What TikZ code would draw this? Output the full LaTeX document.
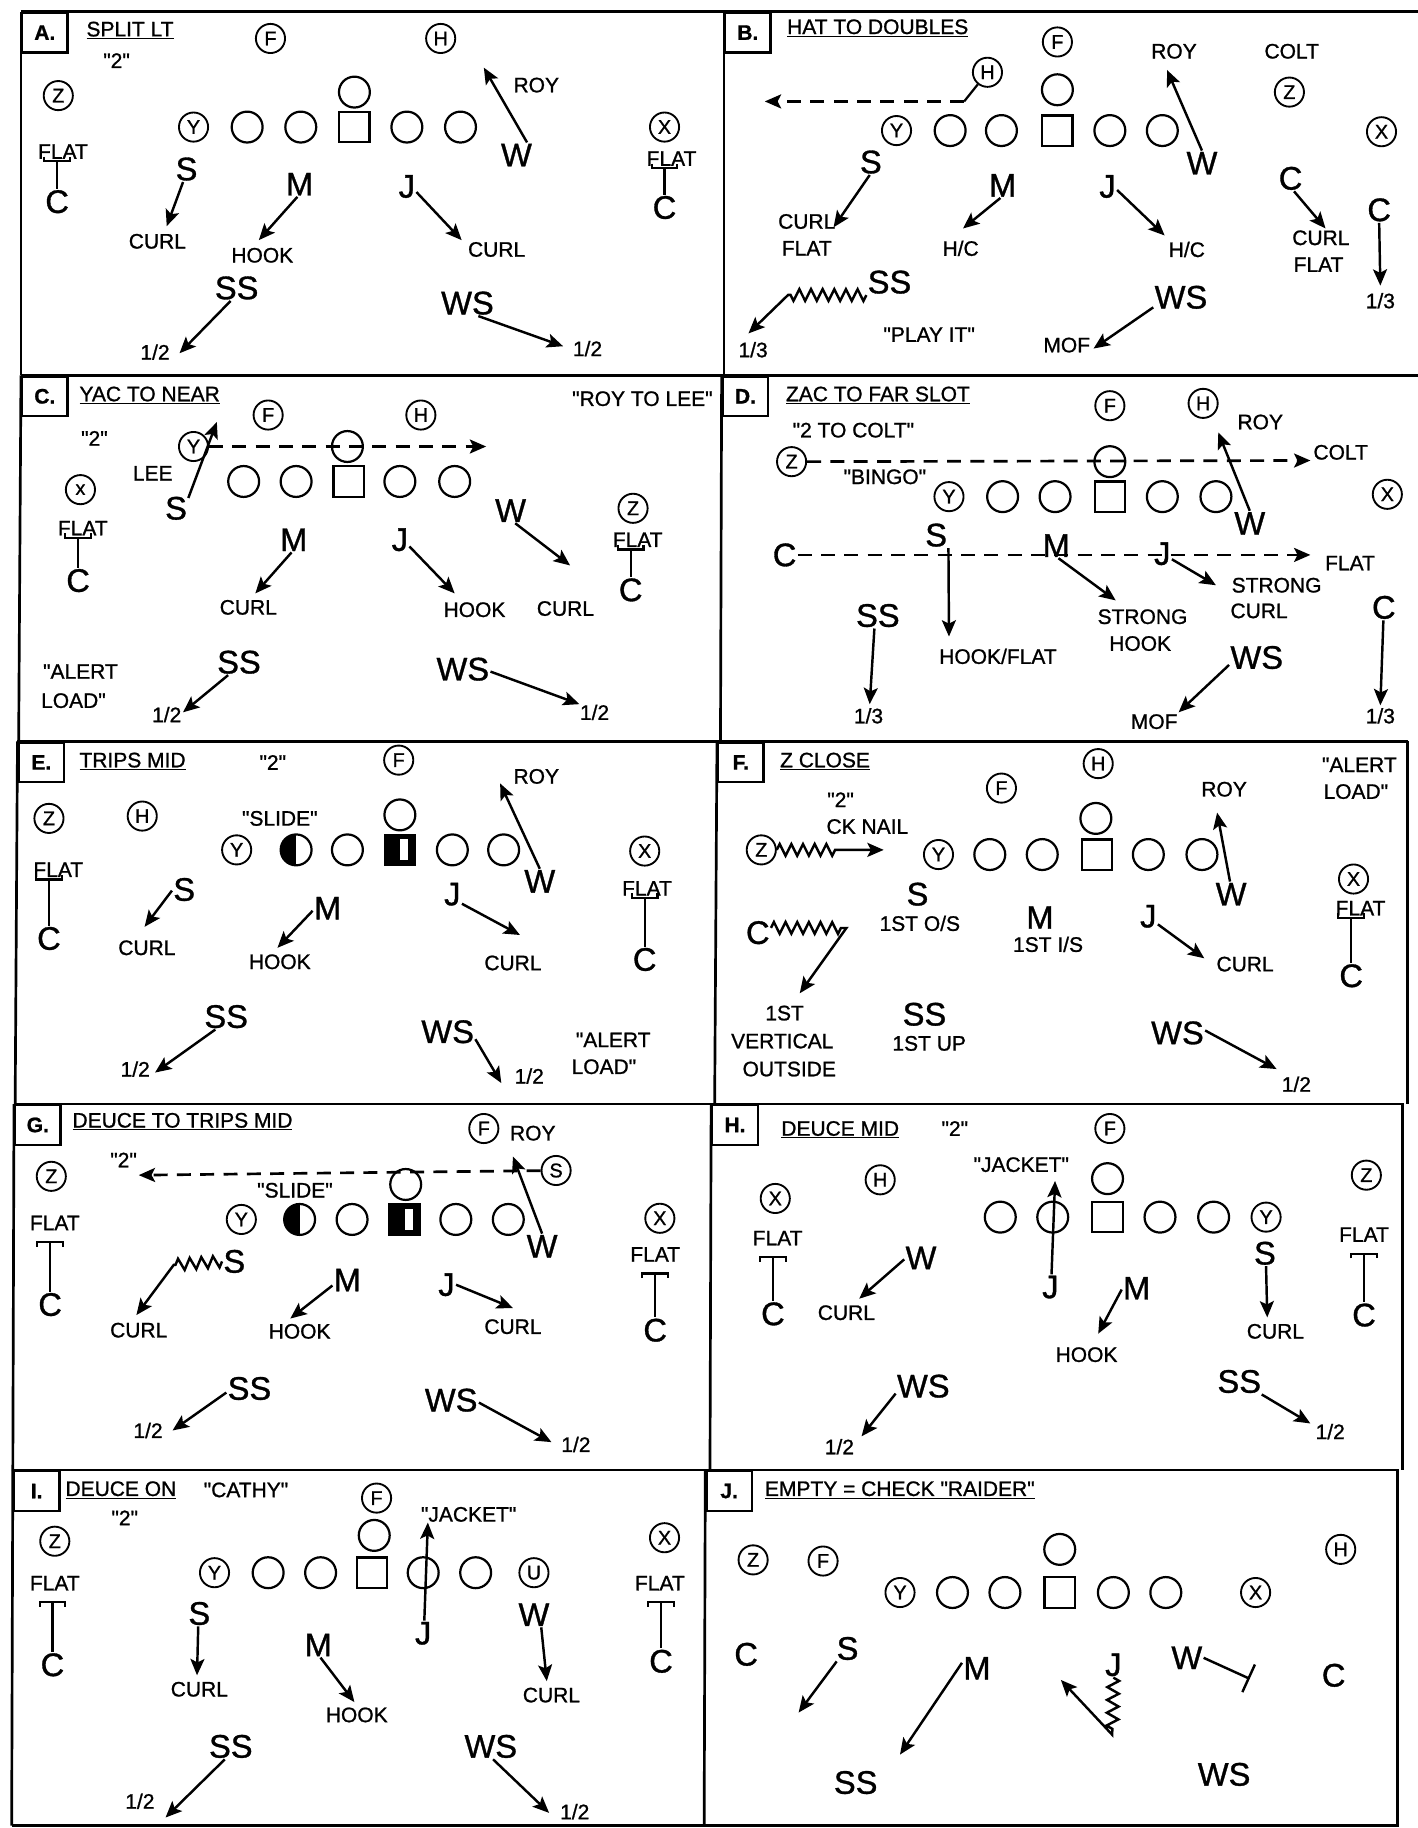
\documentclass[tikz,border=0pt]{standalone}
\usepackage{fontspec}
\setmainfont{Liberation Sans}[Ligatures=TeXOff, FakeBold=1]
\usetikzlibrary{arrows.meta,decorations.pathmorphing,calc}
\newcommand\myarr[3]{\coordinate (#1e) at (#3); \draw[ar] (#1.#2) -- (#1e);}
\newcommand\flatup[2]{%
  \path (#1.south) ++(0,1) coordinate (fb);
  \draw[ln] (fb -| #2.north) ++(-11,-4) -- ++(0,4) -- ++(22,0) -- ++(0,-4);
  \draw[ln] (fb -| #2.north) -- (#2.north);}
\newcommand\flatdn[2]{%
  \path (#1.south) ++(0,9) coordinate (fb);
  \draw[ln] (fb -| #2.north) ++(-11,4) -- ++(0,-4) -- ++(22,0) -- ++(0,4);
  \draw[ln] (fb -| #2.north) -- (#2.north);}
\tikzset{
 big/.style={font=\fontsize{28}{30}\selectfont, inner sep=1pt},
 sm/.style={font=\fontsize{18}{20}\selectfont, inner sep=1pt},
 pc/.style={circle, draw, line width=1.6pt, minimum size=25pt, inner sep=0pt, font=\fontsize{17}{17}\selectfont},
 oc/.style={circle, draw, line width=1.9pt, minimum size=26.5pt, inner sep=0pt},
 sq/.style={rectangle, draw, line width=1.9pt, minimum size=26pt, inner sep=0pt},
 ar/.style={line width=2.1pt, -{Stealth[length=14pt,width=12pt,inset=3pt]}},
 dar/.style={line width=2.3pt, dash pattern=on 12pt off 8pt, -{Stealth[length=14pt,width=12pt,inset=3pt]}},
 ln/.style={line width=1.9pt},
 ttl/.style={font=\fontsize{18}{20}\selectfont, inner sep=1pt, anchor=west},
 lbox/.style={draw, line width=1.9pt, font=\bfseries\fontsize{18}{20}\selectfont, minimum width=39pt, minimum height=34pt, inner sep=0pt, anchor=north west},
 panelrule/.style={line width=2.3pt},
 zig/.style={decoration={zigzag, segment length=10pt, amplitude=5pt}},
 halfc/.style={oc, path picture={\fill (path picture bounding box.south west) rectangle (path picture bounding box.north);}},
 halfs/.style={sq, path picture={\fill (path picture bounding box.south west) rectangle (path picture bounding box.north east);
   \fill[white] ($(path picture bounding box.north)+(0,4)$) rectangle ($(path picture bounding box.south east)+(-6,-4)$);}},
}
\begin{document}
\begin{tikzpicture}[x=1pt,y=-1pt]
\fill[white] (0,0) rectangle (1216,1568);
\useasboundingbox (0,0) rectangle (1216,1568);
% ---------- grid ----------
\draw[panelrule] (18,10) -- (1216,10);
\draw[panelrule] (18,322) -- (1216,322);
\draw[panelrule] (15,636) -- (1208,636);
\draw[panelrule] (12,947) -- (1204,947);
\draw[panelrule] (11,1261) -- (1200,1261);
\draw[panelrule] (10,1566) -- (1200,1566);
\draw[panelrule] (18,10) -- (18,322);
\draw[panelrule] (18,322) -- (16,636);
\draw[panelrule] (15,636) -- (13,947);
\draw[panelrule] (12,947) -- (11,1261);
\draw[panelrule] (11,1261) -- (10,1566);
\draw[panelrule] (621,10) -- (621,322);
\draw[panelrule] (619,322) -- (618,636);
\draw[panelrule] (615,636) -- (613,947);
\draw[panelrule] (610,947) -- (609,1261);
\draw[panelrule] (605,1261) -- (604,1566);
\draw[panelrule] (1207,636) -- (1207,947);
\draw[panelrule] (1203,947) -- (1203,1261);
\draw[panelrule] (1199,1261) -- (1199,1566);

% ---------- A ----------
\node[lbox] (aL) at (18,10) {A.};
\node[ttl] (aT) at (73,26) {\underline{SPLIT LT}};
\node[sm] (a2) at (100,52) {"2"};
\node[pc] (aF) at (232,33) {F};
\node[pc] (aH) at (378,33) {H};
\node[pc] (aZ) at (50,82) {Z};
\node[oc] (aQ) at (304,79) {};
\node[pc] (aY) at (166,109) {Y};
\node[oc] (aO1) at (212,109) {};
\node[oc] (aO2) at (258,109) {};
\node[sq] (aC) at (304,109) {};
\node[oc] (aO3) at (349,109) {};
\node[oc] (aO4) at (395,109) {};
\node[pc] (aX) at (570,109) {X};
\node[sm] (aRoy) at (460,73) {ROY};
\node[big] (aW) at (443,133) {W};
\myarr{aW}{50}{415,58}
\node[sm] (aFl1) at (54,130) {FLAT};
\node[big] (aC1) at (49,173) {C};
\flatup{aFl1}{aC1}
\node[sm] (aFl2) at (576,136) {FLAT};
\node[big] (aC2) at (570,178) {C};
\flatup{aFl2}{aC2}
\node[big] (aS) at (160,145) {S};
\myarr{aS}{-105}{143,194}
\node[sm] (aCu1) at (135,207) {CURL};
\node[big] (aM) at (257,158) {M};
\myarr{aM}{-100}{222,206}
\node[sm] (aHk) at (225,219) {HOOK};
\node[big] (aJ) at (349,160) {J};
\myarr{aJ}{-30}{396,206}
\node[sm] (aCu2) at (426,214) {CURL};
\node[big] (aSS) at (203,247) {SS};
\myarr{aSS}{-115}{154,303}
\node[sm] (a12a) at (133,302) {1/2};
\node[big] (aWS) at (401,260) {WS};
\myarr{aWS}{-50}{483,297}
\node[sm] (a12b) at (504,299) {1/2};

% ---------- B ----------
\node[lbox] (bL) at (621,10) {B.};
\node[ttl] (bT) at (674,24) {\underline{HAT TO DOUBLES}};
\node[pc] (bF) at (907,36) {F};
\node[sm] (bRoy) at (1007,44) {ROY};
\node[sm] (bColt) at (1108,44) {COLT};
\node[pc] (bH) at (847,62) {H};
\coordinate (bHc) at (827,87);
\coordinate (bHe) at (656,87);
\draw[ln] (bH) -- (bHc);
\draw[dar] (bHc) -- (bHe);
\node[oc] (bQ) at (907,77) {};
\node[pc] (bZ) at (1106,79) {Z};
\node[pc] (bY) at (769,112) {Y};
\node[oc] (bO1) at (815,112) {};
\node[oc] (bO2) at (859,112) {};
\node[sq] (bC) at (907,112) {};
\node[oc] (bO3) at (952,112) {};
\node[oc] (bO4) at (997,112) {};
\node[pc] (bX) at (1185,113) {X};
\node[big] (bW) at (1031,140) {W};
\myarr{bW}{90}{1001,60}
\node[big] (bS) at (747,139) {S};
\myarr{bS}{-95}{715,195}
\node[sm] (bCu1) at (692,190) {CURL};
\node[sm] (bFl1) at (692,213) {FLAT};
\node[big] (bM) at (860,159) {M};
\myarr{bM}{-100}{826,196}
\node[sm] (bHC1) at (824,213) {H/C};
\node[big] (bJ) at (950,160) {J};
\myarr{bJ}{-20}{999,202}
\node[sm] (bHC2) at (1018,214) {H/C};
\node[big] (bC1) at (1107,153) {C};
\myarr{bC1}{-75}{1137,196}
\node[sm] (bCu2) at (1133,204) {CURL};
\node[sm] (bFl2) at (1131,227) {FLAT};
\node[big] (bC2) at (1183,180) {C};
\myarr{bC2}{-90}{1184,245}
\node[sm] (b13b) at (1184,258) {1/3};
\node[big] (bSS) at (763,242) {SS};
\coordinate (bZc) at (676,253);
\coordinate (bSSe) at (642,286);
\draw[ar] decorate[zig]{(bSS.south west) -- (bZc)} -- (bSSe);
\node[sm] (b13a) at (646,300) {1/3};
\node[sm] (bPlay) at (797,287) {"PLAY IT"};
\node[big] (bWS) at (1013,255) {WS};
\myarr{bWS}{-160}{938,299}
\node[sm] (bMof) at (915,296) {MOF};

% ---------- C ----------
\node[lbox] (cL) at (18,322) {C.};
\node[ttl] (cT) at (67,339) {\underline{YAC TO NEAR}};
\node[sm] (cRL) at (551,342) {"ROY TO LEE"};
\node[sm] (c2) at (81,376) {"2"};
\node[pc] (cF) at (230,356) {F};
\node[pc] (cH) at (361,356) {H};
\node[pc] (cY) at (166,383) {Y};
\node[oc] (cQ) at (298,383) {};
\coordinate (cYe) at (417,383);
\draw[dar] (cY) -- (cYe);
\node[sm] (cLee) at (131,406) {LEE};
\node[big] (cS) at (151,436) {S};
\myarr{cS}{40}{186,362}
\node[oc] (cO1) at (209,413) {};
\node[oc] (cO2) at (254,413) {};
\node[sq] (cC) at (299,413) {};
\node[oc] (cO3) at (343,413) {};
\node[oc] (cO4) at (390,413) {};
\node[pc] (cX) at (69,420) {x};
\node[sm] (cFl1) at (71,453) {FLAT};
\node[big] (cC1) at (67,498) {C};
\flatup{cFl1}{cC1}
\node[big] (cW) at (438,438) {W};
\myarr{cW}{-70}{489,485}
\node[pc] (cZ) at (543,436) {Z};
\node[sm] (cFl2) at (547,463) {FLAT};
\node[big] (cC2) at (541,506) {C};
\flatup{cFl2}{cC2}
\node[big] (cM) at (252,463) {M};
\myarr{cM}{-100}{219,509}
\node[sm] (cCu1) at (213,521) {CURL};
\node[big] (cJ) at (343,463) {J};
\myarr{cJ}{-35}{390,509}
\node[sm] (cHk) at (407,523) {HOOK};
\node[sm] (cCu2) at (485,522) {CURL};
\node[sm] (cAl) at (69,576) {"ALERT};
\node[sm] (cLo) at (63,601) {LOAD"};
\node[big] (cSS) at (205,568) {SS};
\myarr{cSS}{-130}{157,611}
\node[sm] (c12a) at (143,613) {1/2};
\node[big] (cWS) at (397,574) {WS};
\myarr{cWS}{-5}{497,604}
\node[sm] (c12b) at (510,611) {1/2};

% ---------- D ----------
\node[lbox] (dL) at (619,322) {D.};
\node[ttl] (dT) at (673,339) {\underline{ZAC TO FAR SLOT}};
\node[sm] (d2) at (732,369) {"2 TO COLT"};
\node[pc] (dF) at (952,348) {F};
\node[pc] (dH) at (1032,346) {H};
\node[sm] (dRoy) at (1081,362) {ROY};
\node[pc] (dZ) at (679,396) {Z};
\node[oc] (dQ) at (952,396) {};
\coordinate (dZe) at (1124,395);
\draw[dar] (dZ) -- (dZe);
\node[sm] (dColt) at (1150,388) {COLT};
\node[sm] (dBingo) at (759,409) {"BINGO"};
\node[pc] (dY) at (814,426) {Y};
\node[oc] (dO1) at (860,426) {};
\node[oc] (dO2) at (905,426) {};
\node[sq] (dC) at (952,426) {};
\node[oc] (dO3) at (997,426) {};
\node[oc] (dO4) at (1043,426) {};
\node[pc] (dX) at (1190,424) {X};
\node[big] (dW) at (1072,449) {W};
\myarr{dW}{90}{1045,371}
\node[big] (dC1) at (673,476) {C};
\coordinate (dC1e) at (1124,476);
\draw[dar] (dC1) -- (dC1e);
\node[sm] (dFl) at (1158,483) {FLAT};
\node[big] (dS) at (803,459) {S};
\myarr{dS}{south east}{814,546}
\node[sm] (dHF) at (856,563) {HOOK/FLAT};
\node[big] (dM) at (906,468) {M};
\myarr{dM}{-80}{957,515}
\node[sm] (dSt1) at (980,529) {STRONG};
\node[sm] (dHk) at (978,552) {HOOK};
\node[big] (dJ) at (997,475) {J};
\myarr{dJ}{-30}{1043,502}
\node[sm] (dSt2) at (1095,502) {STRONG};
\node[sm] (dCu) at (1080,524) {CURL};
\node[big] (dC2) at (1187,521) {C};
\myarr{dC2}{-92}{1184,605}
\node[sm] (d13b) at (1184,614) {1/3};
\node[big] (dSS) at (753,528) {SS};
\myarr{dSS}{-105}{746,604}
\node[sm] (d13a) at (745,614) {1/3};
\node[big] (dWS) at (1078,564) {WS};
\myarr{dWS}{-165}{1011,611}
\node[sm] (dMof) at (990,619) {MOF};

% ---------- E ----------
\node[lbox] (eL) at (15,636) {E.};
\node[ttl] (eT) at (67,653) {\underline{TRIPS MID}};
\node[sm] (e2) at (234,654) {"2"};
\node[pc] (eF) at (342,652) {F};
\node[sm] (eRoy) at (460,666) {ROY};
\node[pc] (eZ) at (42,702) {Z};
\node[pc] (eH) at (122,700) {H};
\node[sm] (eSl) at (240,702) {"SLIDE"};
\node[oc] (eQ) at (343,699) {};
\node[pc] (eY) at (203,729) {Y};
\node[halfc] (eO1) at (254,729) {};
\node[oc] (eO2) at (298,729) {};
\node[halfs] (eC) at (343,729) {};
\node[oc] (eO3) at (388,729) {};
\node[oc] (eO4) at (432,729) {};
\node[pc] (eX) at (553,730) {X};
\node[big] (eW) at (463,756) {W};
\myarr{eW}{90}{429,672}
\node[sm] (eFl1) at (50,746) {FLAT};
\node[big] (eC1) at (42,805) {C};
\flatup{eFl1}{eC1}
\node[sm] (eFl2) at (555,762) {FLAT};
\node[big] (eC2) at (553,823) {C};
\flatup{eFl2}{eC2}
\node[big] (eS) at (158,763) {S};
\myarr{eS}{-175}{124,795}
\node[sm] (eCu1) at (126,813) {CURL};
\node[big] (eM) at (281,779) {M};
\myarr{eM}{-170}{238,813}
\node[sm] (eHk) at (240,825) {HOOK};
\node[big] (eJ) at (388,767) {J};
\myarr{eJ}{-45}{446,802}
\node[sm] (eCu2) at (440,826) {CURL};
\node[big] (eSS) at (194,872) {SS};
\myarr{eSS}{-130}{133,920}
\node[sm] (e12a) at (116,917) {1/2};
\node[big] (eWS) at (384,885) {WS};
\myarr{eWS}{-15}{430,929}
\node[sm] (e12b) at (454,923) {1/2};
\node[sm] (eAl) at (526,892) {"ALERT};
\node[sm] (eLo) at (518,915) {LOAD"};

% ---------- F ----------
\node[lbox] (fL) at (615,636) {F.};
\node[ttl] (fT) at (668,653) {\underline{Z CLOSE}};
\node[pc] (fH) at (942,655) {H};
\node[pc] (fF) at (859,676) {F};
\node[sm] (fRoy) at (1050,677) {ROY};
\node[sm] (fAl) at (1166,656) {"ALERT};
\node[sm] (fLo) at (1163,679) {LOAD"};
\node[sm] (f2) at (721,686) {"2"};
\node[sm] (fCk) at (744,709) {CK NAIL};
\node[pc] (fZ) at (653,729) {Z};
\coordinate (fZc) at (721,729);
\coordinate (fZe) at (758,729);
\draw[ar] decorate[zig]{(fZ.east) -- (fZc)} -- (fZe);
\node[oc] (fQ) at (940,702) {};
\node[pc] (fY) at (805,733) {Y};
\node[oc] (fO1) at (849,733) {};
\node[oc] (fO2) at (894,733) {};
\node[sq] (fC) at (941,733) {};
\node[oc] (fO3) at (985,733) {};
\node[oc] (fO4) at (1031,733) {};
\node[big] (fW) at (1056,767) {W};
\myarr{fW}{95}{1044,697}
\node[pc] (fX) at (1161,754) {X};
\node[sm] (fFl) at (1167,779) {FLAT};
\node[big] (fC2) at (1159,837) {C};
\flatup{fFl}{fC2}
\node[big] (fS) at (787,767) {S};
\node[sm] (f1os) at (789,792) {1ST O/S};
\node[big] (fM) at (892,787) {M};
\node[sm] (f1is) at (899,810) {1ST I/S};
\node[big] (fJ) at (985,786) {J};
\myarr{fJ}{-40}{1033,822}
\node[sm] (fCu) at (1068,827) {CURL};
\node[big] (fC1) at (650,800) {C};
\coordinate (fC1c) at (726,796);
\coordinate (fC1e) at (686,852);
\draw[ar] decorate[zig]{(fC1.20) -- (fC1c)} -- (fC1e);
\node[sm] (f1st) at (673,869) {1ST};
\node[sm] (fVe) at (671,893) {VERTICAL};
\node[sm] (fOu) at (677,917) {OUTSIDE};
\node[big] (fSS) at (793,870) {SS};
\node[sm] (f1up) at (797,895) {1ST UP};
\node[big] (fWS) at (1010,886) {WS};
\myarr{fWS}{5}{1095,917}
\node[sm] (f12) at (1112,930) {1/2};

% ---------- G ----------
\node[lbox] (gL) at (12,947) {G.};
\node[ttl] (gT) at (61,962) {\underline{DEUCE TO TRIPS MID}};
\node[pc] (gF) at (415,968) {F};
\node[sm] (gRoy) at (457,972) {ROY};
\node[sm] (g2) at (106,995) {"2"};
\node[pc] (gZ) at (44,1009) {Z};
\node[pc] (gSc) at (477,1004) {S};
\coordinate (gSe) at (119,1008);
\draw[dar] (gSc) -- (gSe);
\node[sm] (gSl) at (253,1021) {"SLIDE"};
\node[oc] (gQ) at (348,1016) {};
\node[pc] (gY) at (207,1046) {Y};
\node[halfc] (gO1) at (257,1046) {};
\node[oc] (gO2) at (302,1046) {};
\node[halfs] (gC) at (347,1046) {};
\node[oc] (gO3) at (391,1046) {};
\node[oc] (gO4) at (436,1046) {};
\node[pc] (gX) at (566,1045) {X};
\node[big] (gW) at (465,1069) {W};
\myarr{gW}{90}{440,992}
\node[sm] (gFl1) at (47,1049) {FLAT};
\node[big] (gC1) at (43,1119) {C};
\flatdn{gFl1}{gC1}
\node[sm] (gFl2) at (562,1076) {FLAT};
\node[big] (gC2) at (562,1141) {C};
\flatdn{gFl2}{gC2}
\node[big] (gS) at (201,1082) {S};
\coordinate (gSzc) at (149,1085);
\coordinate (gSze) at (117,1128);
\draw[ar] decorate[zig]{(gS.west) -- (gSzc)} -- (gSze);
\node[sm] (gCu1) at (119,1141) {CURL};
\node[big] (gM) at (298,1098) {M};
\myarr{gM}{-160}{249,1131}
\node[sm] (gHk) at (257,1142) {HOOK};
\node[big] (gJ) at (383,1102) {J};
\myarr{gJ}{0}{440,1122}
\node[sm] (gCu2) at (440,1138) {CURL};
\node[big] (gSS) at (214,1191) {SS};
\myarr{gSS}{-170}{148,1227}
\node[sm] (g12a) at (127,1227) {1/2};
\node[big] (gWS) at (387,1201) {WS};
\myarr{gWS}{-5}{473,1237}
\node[sm] (g12b) at (494,1239) {1/2};

% ---------- H ----------
\node[lbox] (hL) at (610,947) {H.};
\node[ttl] (hT) at (669,969) {\underline{DEUCE MID}};
\node[sm] (h2) at (819,968) {"2"};
\node[pc] (hF) at (952,968) {F};
\node[sm] (hJk) at (876,999) {"JACKET"};
\node[oc] (hQ) at (950,1011) {};
\node[pc] (hX) at (665,1028) {X};
\node[pc] (hH) at (755,1012) {H};
\node[pc] (hZ) at (1172,1008) {Z};
\node[oc] (hO1) at (858,1044) {};
\node[oc] (hO2) at (903,1044) {};
\node[sq] (hC) at (950,1044) {};
\node[oc] (hO3) at (995,1044) {};
\node[oc] (hO4) at (1041,1044) {};
\node[pc] (hY) at (1086,1044) {Y};
\node[big] (hJ) at (901,1104) {J};
\myarr{hJ}{85}{905,1013}
\node[sm] (hFl1) at (667,1062) {FLAT};
\node[big] (hC1) at (663,1127) {C};
\flatdn{hFl1}{hC1}
\node[sm] (hFl2) at (1170,1059) {FLAT};
\node[big] (hC2) at (1170,1128) {C};
\flatdn{hFl2}{hC2}
\node[big] (hW) at (790,1079) {W};
\myarr{hW}{-175}{737,1114}
\node[sm] (hCu1) at (726,1126) {CURL};
\node[big] (hM) at (975,1105) {M};
\myarr{hM}{-175}{942,1144}
\node[sm] (hHk) at (932,1162) {HOOK};
\node[big] (hS) at (1085,1075) {S};
\myarr{hS}{-85}{1087,1130}
\node[sm] (hCu2) at (1094,1142) {CURL};
\node[big] (hWS) at (792,1189) {WS};
\myarr{hWS}{-165}{739,1232}
\node[sm] (h12a) at (720,1241) {1/2};
\node[big] (hSS) at (1063,1185) {SS};
\myarr{hSS}{-30}{1124,1221}
\node[sm] (h12b) at (1141,1228) {1/2};

% ---------- I ----------
\node[lbox] (iL) at (11,1261) {I.};
\node[ttl] (iT) at (55,1278) {\underline{DEUCE ON}};
\node[sm] (iCa) at (211,1278) {"CATHY"};
\node[sm] (i2) at (107,1302) {"2"};
\node[pc] (iF) at (323,1285) {F};
\node[sm] (iJk) at (402,1299) {"JACKET"};
\node[pc] (iZ) at (47,1322) {Z};
\node[pc] (iX) at (570,1319) {X};
\node[oc] (iQ) at (321,1317) {};
\node[pc] (iY) at (184,1349) {Y};
\node[oc] (iO1) at (230,1349) {};
\node[oc] (iO2) at (275,1349) {};
\node[sq] (iC) at (319,1349) {};
\node[oc] (iO3) at (363,1349) {};
\node[oc] (iO4) at (408,1349) {};
\node[pc] (iU) at (458,1349) {U};
\node[big] (iJ) at (363,1401) {J};
\myarr{iJ}{85}{367,1306}
\node[sm] (iFl1) at (47,1358) {FLAT};
\node[big] (iC1) at (45,1428) {C};
\flatdn{iFl1}{iC1}
\node[sm] (iFl2) at (566,1358) {FLAT};
\node[big] (iC2) at (567,1425) {C};
\flatdn{iFl2}{iC2}
\node[big] (iS) at (171,1384) {S};
\myarr{iS}{-95}{169,1437}
\node[sm] (iCu1) at (171,1449) {CURL};
\node[big] (iM) at (273,1411) {M};
\myarr{iM}{-80}{304,1460}
\node[sm] (iHk) at (306,1471) {HOOK};
\node[big] (iW) at (458,1385) {W};
\myarr{iW}{-60}{469,1442}
\node[sm] (iCu2) at (473,1454) {CURL};
\node[big] (iSS) at (198,1498) {SS};
\myarr{iSS}{-115}{142,1559}
\node[sm] (i12a) at (120,1545) {1/2};
\node[big] (iWS) at (421,1498) {WS};
\myarr{iWS}{-80}{471,1555}
\node[sm] (i12b) at (493,1554) {1/2};

% ---------- J ----------
\node[lbox] (jL) at (605,1261) {J.};
\node[ttl] (jT) at (655,1278) {\underline{EMPTY = CHECK "RAIDER"}};
\node[oc] (jQ) at (909,1329) {};
\node[pc] (jZ) at (646,1338) {Z};
\node[pc] (jF) at (706,1339) {F};
\node[pc] (jH) at (1150,1329) {H};
\node[pc] (jY) at (772,1366) {Y};
\node[oc] (jO1) at (817,1366) {};
\node[oc] (jO2) at (862,1366) {};
\node[sq] (jC) at (909,1366) {};
\node[oc] (jO3) at (955,1366) {};
\node[oc] (jO4) at (1000,1366) {};
\node[pc] (jX) at (1077,1366) {X};
\node[big] (jC1) at (640,1419) {C};
\node[big] (jS) at (727,1414) {S};
\myarr{jS}{-130}{685,1469}
\node[big] (jM) at (838,1431) {M};
\myarr{jM}{160}{772,1505}
\node[big] (jSS) at (734,1529) {SS};
\node[big] (jJ) at (955,1428) {J};
\coordinate (jJc) at (954,1488);
\coordinate (jJe) at (910,1441);
\draw[ar] decorate[decoration={zigzag,segment length=11pt,amplitude=5pt}]{(jJ.south) -- (jJc)} -- (jJe);
\node[big] (jW) at (1018,1422) {W};
\coordinate (jWe) at (1072,1440);
\draw[line width=2.1pt, -{Bar[width=26pt]}] (jW.east) -- (jWe);
\node[big] (jC2) at (1144,1437) {C};
\node[big] (jWS) at (1050,1522) {WS};
\end{tikzpicture}
\end{document}
